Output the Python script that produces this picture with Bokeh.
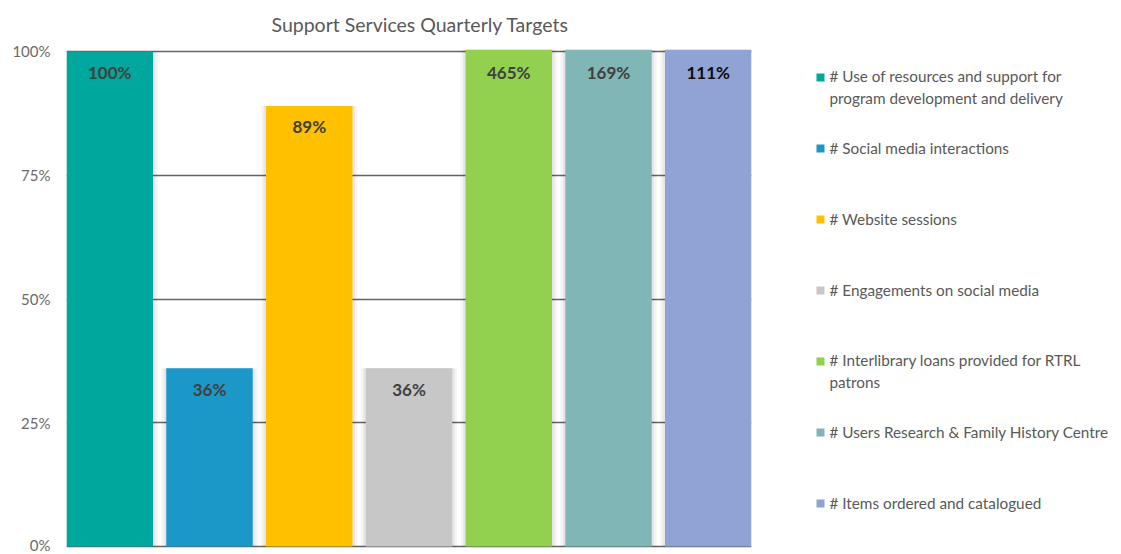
from bokeh.plotting import figure
from bokeh.models import Range1d, ColumnDataSource, FixedTicker, NumeralTickFormatter
from bokeh.layouts import row
from bokeh.core.properties import value
from bokeh.embed import file_html
from bokeh.resources import INLINE

# ---------------- data ----------------
categories = [
    "# Use of resources and support for\nprogram development and delivery",
    "# Social media interactions",
    "# Website sessions",
    "# Engagements on social media",
    "# Interlibrary loans provided for RTRL\npatrons",
    "# Users Research & Family History Centre",
    "# Items ordered and catalogued",
]
values = [1.00, 0.36, 0.89, 0.36, 4.65, 1.69, 1.11]
value_labels = ["100%", "36%", "89%", "36%", "465%", "169%", "111%"]
colors = ["#00A79D", "#1C98C8", "#FFC000", "#C7C7C7", "#92D050", "#80B6B5", "#8FA3D4"]
label_colors = ["#404040", "#404040", "#404040", "#404040", "#404040", "#404040", "#0D0D0D"]
y_ticks = [0, 0.25, 0.5, 0.75, 1.0]
title_text = "Support Services Quarterly Targets"

FONT = "Lato"
n = len(categories)
idx = list(range(n))
BW = 0.867
ymax = y_ticks[-1]
EPS = 0.00404

W1, W2, H = 780, 340, 553
TOP, BOT = 49, 5

src = ColumnDataSource(dict(
    x=idx,
    top=values,
    color=colors,
    label=value_labels,
    label_y=[min(v, ymax) for v in values],
    label_color=label_colors,
))

p = figure(
    width=W1, height=H,
    x_range=Range1d(-BW / 2, n - 1 + BW / 2),
    y_range=Range1d(-EPS, ymax + EPS),
    output_backend="svg", toolbar_location=None,
    min_border_left=66, min_border_right=29, min_border_top=TOP, min_border_bottom=BOT,
)
p.outline_line_color = None
p.xaxis.visible = False
p.xgrid.visible = False
p.ygrid.ticker = FixedTicker(ticks=y_ticks)
p.ygrid.grid_line_color = "#646464"
p.ygrid.grid_line_width = 1.5

ya = p.yaxis[0]
ya.ticker = FixedTicker(ticks=y_ticks)
ya.formatter = NumeralTickFormatter(format="0%")
ya.axis_line_color = None
ya.major_tick_line_color = None
ya.minor_tick_line_color = None
ya.major_tick_out = 0
ya.major_tick_in = 0
ya.minor_tick_out = 0
ya.major_label_text_font = FONT
ya.major_label_text_font_size = "15px"
ya.major_label_text_color = "#6A6A6A"
ya.major_label_standoff = 16

# soft shadows
p.vbar(x="x", top="top", width=BW + 0.10, bottom=0, source=src,
       fill_color="black", fill_alpha=0.04, line_color=None)
p.vbar(x="x", top="top", width=BW + 0.05, bottom=0, source=src,
       fill_color="black", fill_alpha=0.06, line_color=None)
# bars
p.vbar(x="x", top="top", width=BW, bottom=0, source=src,
       fill_color="color", line_color=None)
# data labels
p.text(x="x", y="label_y", text="label", source=src,
       text_align="center", text_baseline="middle", y_offset=21,
       text_font=value(FONT), text_font_style="bold", text_font_size="17px",
       text_color="label_color")

p.title.text = title_text
p.title.align = "left"
p.title.offset = 205
p.title.text_font = FONT
p.title.text_font_size = "19.5px"
p.title.text_font_style = "normal"
p.title.text_color = "#595959"
p.title.vertical_align = "top"
p.title.standoff = 23

# ---------------- legend panel (data coords = picture pixels) ----------------
lg = figure(
    width=W2, height=H,
    x_range=Range1d(W1, W1 + W2), y_range=Range1d(H - BOT, TOP),
    output_backend="svg", toolbar_location=None,
    min_border_left=0, min_border_right=0, min_border_top=TOP, min_border_bottom=BOT,
)
lg.axis.visible = False
lg.grid.visible = False
lg.outline_line_color = None

row_step = 71
first_y = 76
line_gap = 21
leg_y = [first_y + row_step * i for i in idx]
nlines = [c.count("\n") + 1 for c in categories]
leg_src = ColumnDataSource(dict(
    sx=[820] * n,
    sy=[y + 1 for y in leg_y],
    tx=[829] * n,
    ty=[y + (k - 1) * line_gap / 2 for y, k in zip(leg_y, nlines)],
    text=categories,
    color=colors,
))
lg.rect(x="sx", y="sy", width=8, height=8, width_units="screen", height_units="screen",
        source=leg_src, fill_color="color", line_color=None)
lg.text(x="tx", y="ty", text="text", source=leg_src,
        text_align="left", text_baseline="middle", text_line_height=1.25,
        text_font=value(FONT), text_font_size="15.3px", text_color="#595959")

layout = row(p, lg)
open("out.html", "w").write(file_html(layout, INLINE))
